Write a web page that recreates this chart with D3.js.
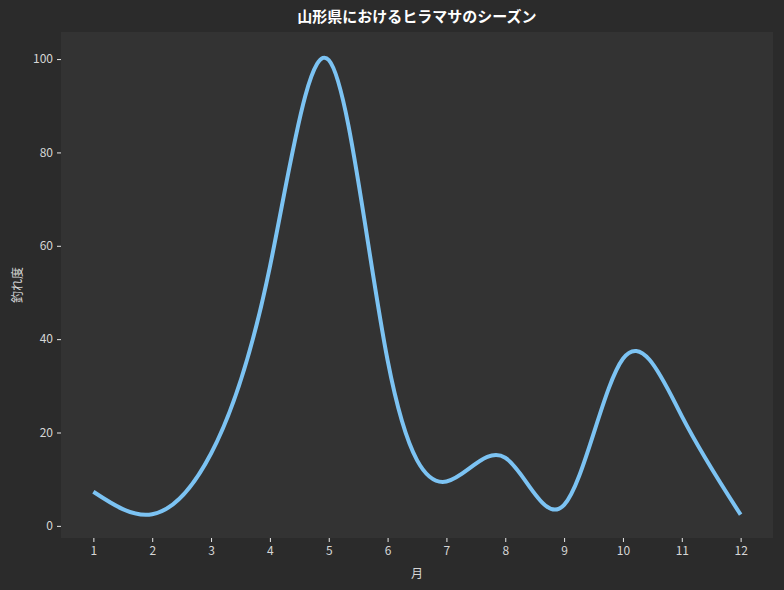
<!DOCTYPE html>
<html>
<head>
<meta charset="utf-8">
<script src="https://cdn.jsdelivr.net/npm/d3@7"></script>
<style>
  body { margin: 0; background: #2b2b2b; }
  svg { display: block; font-family: "Noto Sans CJK JP", "Noto Sans", sans-serif; }
</style>
</head>
<body>
<svg id="chart"></svg>
<script>
// monthly values
const months = [1, 2, 3, 4, 5, 6, 7, 8, 9, 10, 11, 12];
const catchScore = [7.3, 2.5, 15.5, 55.5, 99.8, 35.5, 9.5, 14.6, 4.5, 35.8, 23.5, 2.4];
const yTicks = [0, 20, 40, 60, 80, 100];

const W = 784, H = 590;
const margin = { top: 32, right: 11, bottom: 52, left: 61 },
  width = W - margin.left - margin.right,
  height = H - margin.top - margin.bottom;

const svg = d3.select("#chart")
  .attr("width", W)
  .attr("height", H);

svg.append("rect")
  .attr("width", W).attr("height", H)
  .attr("fill", "#2b2b2b");

const g = svg.append("g")
  .attr("transform", "translate(" + margin.left + "," + margin.top + ")");

g.append("rect")
  .attr("width", width).attr("height", height)
  .attr("fill", "#333333");

const x = d3.scaleLinear().domain([0.45, 12.55]).range([0, width]);
const y = d3.scaleLinear().domain([-2.6, 105.8]).range([height, 0]);

// axes: no spines, short light ticks
const xAxis = g.append("g")
  .attr("transform", `translate(0, ${height})`)
  .call(d3.axisBottom(x).tickValues(months).tickSize(4).tickPadding(4).tickFormat(d3.format("d")));
const yAxis = g.append("g")
  .call(d3.axisLeft(y).tickValues(yTicks).tickSize(4).tickPadding(4));

[xAxis, yAxis].forEach(function (a) {
  a.select(".domain").remove();
  a.selectAll("line").attr("stroke", "#e8e8e8");
  a.selectAll("text")
    .attr("fill", "#d6d6d6")
    .style("font-size", "12px")
    .style("font-family", "'Noto Sans CJK JP', sans-serif");
});

// smoothed line
g.append("path")
  .datum(months.map((m, i) => [m, catchScore[i]]))
  .attr("fill", "none")
  .attr("stroke", "#7cc3f3")
  .attr("stroke-width", 4)
  .attr("stroke-linecap", "butt")
  .attr("d", d3.line()
    .x(d => x(d[0]))
    .y(d => y(d[1]))
    .curve(d3.curveNatural));

// title and labels
svg.append("text")
  .attr("x", margin.left + width / 2)
  .attr("y", 22)
  .attr("text-anchor", "middle")
  .attr("fill", "#ffffff")
  .style("font-size", "15px")
  .style("font-weight", "bold")
  .text("山形県におけるヒラマサのシーズン");

svg.append("text")
  .attr("x", margin.left + width / 2)
  .attr("y", 578)
  .attr("text-anchor", "middle")
  .attr("fill", "#d6d6d6")
  .style("font-size", "12px")
  .text("月");

svg.append("text")
  .attr("transform", "rotate(-90)")
  .attr("x", -(margin.top + height / 2))
  .attr("y", 22)
  .attr("text-anchor", "middle")
  .attr("fill", "#d6d6d6")
  .style("font-size", "12px")
  .text("釣れ度");
</script>
</body>
</html>
